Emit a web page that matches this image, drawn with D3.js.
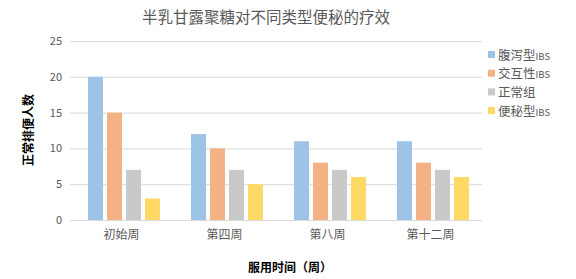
<!DOCTYPE html>
<html><head><meta charset="utf-8">
<script src="https://cdn.jsdelivr.net/npm/d3@7/dist/d3.min.js"></script>
<style>body{margin:0;background:#fff}svg{display:block}</style>
</head><body>
<svg id="c" width="576" height="279"></svg>
<script>
const categories = ["初始周", "第四周", "第八周", "第十二周"];
const seriesNames = ["腹泻型IBS", "交互性IBS", "正常组", "便秘型IBS"];
const diarrheaIBS = [20, 12, 11, 11];
const mixedIBS = [15, 10, 8, 8];
const normalGroup = [7, 7, 7, 7];
const constipationIBS = [3, 5, 6, 6];
const yTicks = [0, 5, 10, 15, 20, 25];
const colors = ["#9dc3e6", "#f4b183", "#c9c9c9", "#ffd966"];
const seriesValues = [diarrheaIBS, mixedIBS, normalGroup, constipationIBS];

const svg = d3.select("#c");
const font = "'Noto Sans CJK SC', 'Noto Sans', sans-serif";
const L = 70, R = 482, T = 41, B = 220;
const x = d3.scaleBand().domain(categories).range([L, R]).paddingInner(0).paddingOuter(0);
const x1 = d3.scaleBand().domain(d3.range(4)).range([18, 90]).paddingInner(0.21);
const y = d3.scaleLinear().domain([0, 25]).range([B, T]);

svg.append("g").selectAll("line").data(yTicks).join("line")
  .attr("x1", L).attr("x2", R).attr("y1", d => y(d)+0.5).attr("y2", d => y(d)+0.5)
  .attr("stroke", "#d9d9d9").attr("stroke-width", 1);

const yAxis = svg.append("g").attr("transform", `translate(${L},0)`)
  .call(d3.axisLeft(y).tickValues(yTicks).tickSize(0).tickPadding(8));
yAxis.select(".domain").remove();
yAxis.selectAll("text").attr("fill", "#595959").style("font-size", "11px").style("font-family", font);

const xAxis = svg.append("g").attr("transform", `translate(0,${B})`)
  .call(d3.axisBottom(x).tickSize(0).tickPadding(10));
xAxis.select(".domain").remove();
xAxis.selectAll("text").attr("fill", "#595959").style("font-size", "12px").style("font-family", font);

const groups = svg.append("g").selectAll("g").data(categories).join("g")
  .attr("transform", d => `translate(${x(d)},0)`);
groups.selectAll("rect").data((d, i) => seriesValues.map((s, k) => ({k, v: s[i]}))).join("rect")
  .attr("x", d => x1(d.k)).attr("width", x1.bandwidth())
  .attr("y", d => y(d.v)).attr("height", d => y(0) - y(d.v))
  .attr("fill", d => colors[d.k]);

svg.append("line").attr("x1", L).attr("x2", R).attr("y1", B+0.5).attr("y2", B+0.5)
  .attr("stroke", "#d9d9d9").attr("stroke-width", 1);

svg.append("text").attr("x", 266).attr("y", 23).attr("text-anchor", "middle")
  .attr("fill", "#595959").style("font-size", "15.5px").style("font-family", font)
  .text("半乳甘露聚糖对不同类型便秘的疗效");

svg.append("text").attr("transform", "translate(33,130) rotate(-90)").attr("text-anchor", "middle")
  .attr("fill", "#000").style("font-size", "12px").style("font-weight", "bold").style("font-family", font)
  .text("正常排便人数");

svg.append("text").attr("x", 290).attr("y", 272).attr("text-anchor", "middle")
  .attr("fill", "#000").style("font-size", "12px").style("font-weight", "bold").style("font-family", font)
  .text("服用时间（周）");

const leg = svg.append("g").selectAll("g").data(seriesNames).join("g")
  .attr("transform", (d, i) => `translate(488,${55 + i * 18.7})`);
leg.append("rect").attr("x", 0).attr("y", -4).attr("width", 7).attr("height", 7).attr("fill", (d, i) => colors[i]);
const lt = leg.append("text").attr("x", 10).attr("y", 4.5).attr("fill", "#595959")
  .style("font-size", "12.5px").style("font-family", font);
lt.append("tspan").text(d => d.replace("IBS", ""));
lt.append("tspan").style("font-size", "9.5px").text(d => d.includes("IBS") ? "IBS" : "");
</script>
</body></html>
